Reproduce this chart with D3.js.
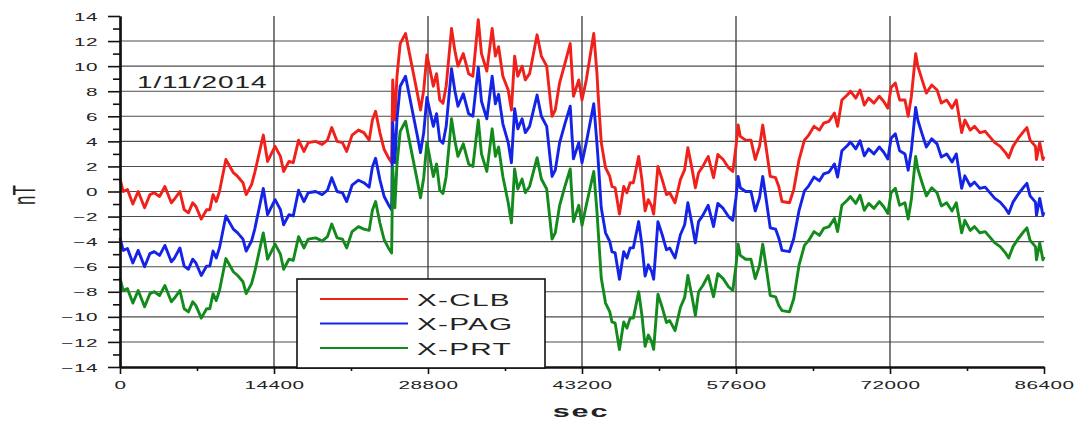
<!DOCTYPE html>
<html>
<head>
<meta charset="utf-8">
<script src="https://cdn.jsdelivr.net/npm/d3@7"></script>
<style>
  body { margin: 0; background: #fff; }
  text { font-family: Arial, "Liberation Sans", sans-serif; fill: #222; }
</style>
</head>
<body>
<svg id="chart" width="1082" height="421"></svg>
<script>
// time in seconds (shared by the three stations)
var secs = [
  0,300,700,1200,1700,2300,2800,3200,3700,4200,
  4800,5100,5600,6000,6400,6800,7100,7600,8100,8400,
  8700,9000,9300,9900,10600,11000,11500,11800,12300,12600,
  13400,13800,14500,15000,15300,15800,16200,16700,17200,17600,
  18300,18900,19400,19800,20300,20800,21200,21700,22300,22800,
  23300,23600,23900,24300,24700,25100,25400,25500,25700,25900,
  26200,26700,27000,27300,27800,28100,28400,28700,29300,29600,
  29900,30200,30500,31000,31300,31600,32100,32600,33000,33500,
  33800,34300,34800,35100,35400,35800,36300,36600,36900,37200,
  37600,37900,38300,39000,39400,39900,40400,40700,41100,41600,
  42100,42400,42900,43200,43600,44300,44600,44700,45000,45400,
  45800,46000,46300,46700,47100,47400,47700,48000,48500,48800,
  49100,49400,49700,49900,50300,50700,51100,51400,51900,52400,
  52800,53100,53500,53800,54100,54500,55000,55500,55900,56400,
  56900,57300,57600,57800,58000,58500,59000,59400,59800,60100,
  60400,60800,61300,61600,61900,62600,63000,63500,64000,64400,
  64900,65400,65800,66300,66800,67100,67500,68000,68300,68800,
  69200,69600,70000,70500,71000,71400,71800,72100,72500,72900,
  73400,73700,74000,74400,74600,75000,75400,75900,76400,76800,
  77300,77800,78200,78700,79000,79500,79900,80400,80900,81300,
  81800,82300,82800,83100,83500,84000,84500,84800,85100,85600,
  85700,86000,86300,86400
];

var xClb = [
  1.0,0.0,0.15,-1.0,0.0,-1.3,-0.25,-0.1,-0.4,0.4,
  -0.9,-0.6,0.0,-1.45,-1.7,-0.9,-1.2,-2.2,-1.45,-1.45,
  -0.25,-0.8,0.0,2.55,1.5,1.2,0.7,-0.25,0.55,1.5,
  4.5,2.4,3.6,2.8,1.6,2.4,2.3,4.1,3.2,3.9,
  4.0,3.75,4.1,5.1,4.0,3.9,3.2,4.5,4.9,4.7,
  4.1,5.7,6.4,4.7,3.35,2.7,2.3,8.9,5.7,9.2,
  11.8,12.6,11.3,10.0,7.85,6.5,8.1,10.9,8.4,9.4,
  7.3,7.05,8.4,13.0,11.3,10.0,11.0,9.4,9.2,13.7,
  11.0,9.6,13.0,10.8,11.55,9.2,8.1,6.5,10.8,9.2,
  10.0,8.9,9.4,12.5,10.8,10.0,6.0,6.5,8.65,10.2,
  11.8,7.6,8.9,7.3,8.9,12.6,9.4,7.85,3.9,1.9,
  1.2,0.4,0.3,-1.8,0.4,-0.1,0.7,0.7,2.8,0.95,
  -1.55,-0.65,-1.15,-1.8,2.0,0.95,-0.25,-0.1,-0.9,0.95,
  1.75,3.5,1.75,0.3,1.5,2.0,2.8,1.1,2.95,2.55,
  1.9,1.6,3.6,5.3,4.4,4.1,4.1,2.55,3.6,5.3,
  3.6,1.2,1.1,0.4,-0.8,-0.9,0.15,2.55,4.1,4.5,
  5.2,4.9,5.45,5.6,6.25,5.2,7.3,7.7,8.0,7.45,
  8.1,6.9,7.45,7.05,7.6,7.2,6.65,8.3,8.65,7.3,
  7.3,6.0,7.6,11.0,10.0,8.9,7.85,8.5,8.1,7.05,
  7.3,6.65,7.3,4.7,5.7,4.9,5.2,4.7,4.8,4.4,
  3.9,3.6,3.1,2.7,3.6,4.25,4.8,5.1,4.1,3.6,
  2.55,3.9,2.55,2.8
];

var xPag = [
  -3.7,-4.7,-4.55,-5.7,-4.7,-6.0,-4.95,-4.8,-5.1,-4.3,
  -5.6,-5.3,-4.5,-5.95,-6.2,-5.4,-5.7,-6.7,-5.95,-5.95,
  -4.75,-5.3,-4.5,-1.95,-3.0,-3.3,-3.8,-4.75,-3.95,-3.0,
  0.25,-1.85,-0.65,-1.45,-2.65,-1.85,-1.95,0.1,-0.8,-0.1,
  0.0,-0.25,0.1,1.1,0.0,-0.1,-0.8,0.5,0.9,0.7,
  0.35,1.95,2.65,0.95,-0.4,-1.05,-1.45,5.5,2.3,5.8,
  8.4,9.2,7.9,6.6,4.45,3.1,4.7,7.5,5.2,6.2,
  4.1,3.85,5.2,9.8,8.1,6.8,7.8,6.2,6.0,9.9,
  7.2,5.8,9.2,7.0,7.75,5.4,3.9,2.3,6.6,5.0,
  5.8,4.7,5.2,7.7,6.0,5.2,1.2,1.7,3.85,5.4,
  6.8,2.6,3.9,2.3,3.9,7.0,3.8,2.65,-1.3,-3.3,
  -4.0,-4.8,-4.9,-7.0,-4.8,-5.3,-4.5,-4.5,-2.4,-4.25,
  -6.75,-5.85,-6.35,-7.0,-2.4,-3.45,-4.65,-4.5,-5.3,-3.45,
  -2.65,-0.9,-2.65,-4.1,-2.4,-1.9,-1.1,-2.8,-0.95,-1.35,
  -2.0,-2.3,-0.5,1.2,0.3,0.0,0.0,-1.55,-0.5,1.2,
  -0.5,-2.9,-3.0,-3.7,-4.7,-4.8,-3.75,-1.5,0.05,0.45,
  1.15,0.85,1.4,1.55,2.2,1.15,3.25,3.65,3.95,3.4,
  4.05,2.85,3.4,3.0,3.55,3.15,2.6,4.25,4.6,3.25,
  3.0,1.7,3.3,6.7,5.7,4.6,3.55,4.2,3.8,2.75,
  3.0,2.35,3.0,0.25,1.25,0.45,0.75,0.25,0.35,-0.05,
  -0.55,-0.85,-1.35,-1.75,-0.85,-0.2,0.35,0.65,-0.35,-0.85,
  -1.9,-0.55,-1.9,-1.65
];

var xPrt = [
  -6.9,-7.9,-7.75,-8.9,-7.9,-9.2,-8.15,-8.0,-8.3,-7.5,
  -8.8,-8.5,-7.9,-9.35,-9.6,-8.8,-9.1,-10.1,-9.35,-9.35,
  -8.15,-8.7,-7.9,-5.35,-6.4,-6.7,-7.2,-8.15,-7.35,-6.4,
  -3.3,-5.4,-4.2,-5.0,-6.2,-5.4,-5.5,-3.6,-4.5,-3.8,
  -3.7,-3.95,-3.6,-2.6,-3.7,-3.8,-4.5,-3.2,-2.8,-3.0,
  -3.1,-1.5,-0.8,-2.5,-3.85,-4.5,-4.9,1.9,-1.3,2.2,
  4.8,5.6,4.3,3.0,0.85,-0.5,1.1,3.9,1.2,2.2,
  0.1,-0.15,1.2,5.8,4.1,2.8,3.8,2.2,2.0,5.7,
  3.0,1.6,5.0,2.8,3.55,1.2,-0.9,-2.5,1.8,0.2,
  1.0,-0.1,0.4,2.7,1.0,0.2,-3.8,-3.3,-1.15,0.4,
  1.8,-2.4,-1.1,-2.7,-1.1,1.6,-1.6,-2.95,-6.9,-8.9,
  -9.6,-10.4,-10.5,-12.6,-10.4,-10.9,-10.1,-10.1,-8.0,-9.85,
  -12.35,-11.45,-11.95,-12.6,-8.2,-9.25,-10.45,-10.3,-11.1,-9.25,
  -8.45,-6.7,-8.45,-9.9,-8.0,-7.5,-6.7,-8.4,-6.55,-6.95,
  -7.6,-7.9,-5.9,-4.2,-5.1,-5.4,-5.4,-6.95,-5.9,-4.2,
  -5.9,-8.3,-8.4,-9.1,-9.5,-9.6,-8.55,-5.85,-4.3,-3.9,
  -3.2,-3.5,-2.95,-2.8,-2.15,-3.2,-1.1,-0.7,-0.4,-0.95,
  -0.3,-1.5,-0.95,-1.35,-0.8,-1.2,-1.75,-0.1,0.25,-1.1,
  -0.9,-2.2,-0.6,2.8,1.8,0.7,-0.35,0.3,-0.1,-1.15,
  -0.9,-1.55,-0.9,-3.3,-2.3,-3.1,-2.8,-3.3,-3.2,-3.6,
  -4.1,-4.4,-4.9,-5.3,-4.4,-3.75,-3.2,-2.9,-3.9,-4.4,
  -5.45,-4.1,-5.45,-5.2
];

var seriesNames = ['X-CLB', 'X-PAG', 'X-PRT'];
var xMajorTicks = [0, 14400, 28800, 43200, 57600, 72000, 86400];
var xMinorTicks = [7200, 21600, 36000, 50400, 64800, 79200];
var yMajorTicks = d3.range(-14, 15, 2);
var yMinorTicks = d3.range(-13, 14, 2);
var dateLabel = '1/11/2014';

var colors = ['#f0201a', '#1424e6', '#138a1c'];
var SX = 1.8; // the original picture is stretched sideways

var svg = d3.select('#chart');
var x = d3.scaleLinear().domain([0, 86400]).range([120, 1044]);
var y = d3.scaleLinear().domain([-14, 14]).range([367, 16]);

// grid
svg.append('g').selectAll('line')
  .data(yMajorTicks.filter(function (d) { return d > -14 && d < 14; }))
  .enter().append('line')
  .attr('x1', x(0)).attr('x2', x(86400))
  .attr('y1', function (d) { return y(d); }).attr('y2', function (d) { return y(d); })
  .attr('stroke', '#4d4d4d').attr('stroke-width', 1.1);

svg.append('g').selectAll('line')
  .data(xMajorTicks.filter(function (d) { return d > 0 && d < 86400; }))
  .enter().append('line')
  .attr('x1', function (d) { return x(d); }).attr('x2', function (d) { return x(d); })
  .attr('y1', y(14)).attr('y2', y(-14))
  .attr('stroke', '#3a3a3a').attr('stroke-width', 1.3);

// series
var series = [xClb, xPag, xPrt];
var line = d3.line()
  .x(function (d, i) { return x(secs[i]); })
  .y(function (d) { return y(d); });

svg.append('g').selectAll('path')
  .data(series)
  .enter().append('path')
  .attr('d', line)
  .attr('fill', 'none')
  .attr('stroke', function (d, i) { return colors[i]; })
  .attr('stroke-width', 2.9)
  .attr('stroke-linejoin', 'round');

// axes
function styleAxis(g) {
  g.select('.domain').attr('stroke', '#111').attr('stroke-width', 2.2);
  g.selectAll('.tick line').attr('stroke', '#111').attr('stroke-width', 1.6);
}

svg.append('g').attr('transform', 'translate(' + x(0) + ',0)')
  .call(d3.axisLeft(y).tickValues(yMinorTicks).tickSize(7).tickSizeOuter(0).tickFormat(''))
  .call(styleAxis);

var yAx = svg.append('g').attr('transform', 'translate(' + x(0) + ',0)')
  .call(d3.axisLeft(y).tickValues(yMajorTicks).tickSize(12).tickSizeOuter(0))
  .call(styleAxis);
yAx.selectAll('.tick text')
  .attr('x', null).attr('dy', '0.36em')
  .attr('transform', 'translate(-22,0) scale(' + SX + ',1)')
  .style('font-size', '11.5px').style('letter-spacing', '0.3px')
  .attr('fill', '#222');

svg.append('g').attr('transform', 'translate(0,' + y(-14) + ')')
  .call(d3.axisBottom(x).tickValues(xMinorTicks).tickSize(4).tickSizeOuter(0).tickFormat(''))
  .call(styleAxis);

var xAx = svg.append('g').attr('transform', 'translate(0,' + y(-14) + ')')
  .call(d3.axisBottom(x).tickValues(xMajorTicks).tickSize(7).tickSizeOuter(0).tickFormat(d3.format('d')))
  .call(styleAxis);
xAx.selectAll('.tick text')
  .attr('y', null).attr('dy', null)
  .attr('transform', 'translate(0,22) scale(' + SX + ',1)')
  .style('font-size', '11.5px').style('letter-spacing', '0.3px')
  .attr('fill', '#222');

// titles
svg.append('text')
  .attr('transform', 'translate(581,417) scale(' + SX + ',1)')
  .attr('text-anchor', 'middle')
  .style('font-size', '17px').style('font-weight', 'bold').style('letter-spacing', '1px')
  .text('sec');

svg.append('text')
  .attr('transform', 'translate(35,195) scale(' + SX + ',1) rotate(-90)')
  .attr('text-anchor', 'middle')
  .style('font-size', '17px')
  .text('nT');

svg.append('text')
  .attr('transform', 'translate(137,88) scale(1.75,1)')
  .style('font-size', '16px').style('letter-spacing', '0.5px')
  .text(dateLabel);

// legend
var legend = svg.append('g');
legend.append('rect')
  .attr('x', 297).attr('y', 279).attr('width', 248).attr('height', 89)
  .attr('fill', '#fff').attr('stroke', '#111').attr('stroke-width', 1.6);

var rows = legend.selectAll('g.row')
  .data(seriesNames)
  .enter().append('g')
  .attr('class', 'row')
  .attr('transform', function (d, i) { return 'translate(0,' + (299 + i * 24.5) + ')'; });

rows.append('line')
  .attr('x1', 320).attr('x2', 408)
  .attr('stroke', function (d, i) { return colors[i]; })
  .attr('stroke-width', 1.8);

rows.append('text')
  .attr('transform', 'translate(417,6.5) scale(1.75,1)')
  .style('font-size', '17px').style('letter-spacing', '0.7px')
  .text(function (d) { return d; });
</script>
</body>
</html>
